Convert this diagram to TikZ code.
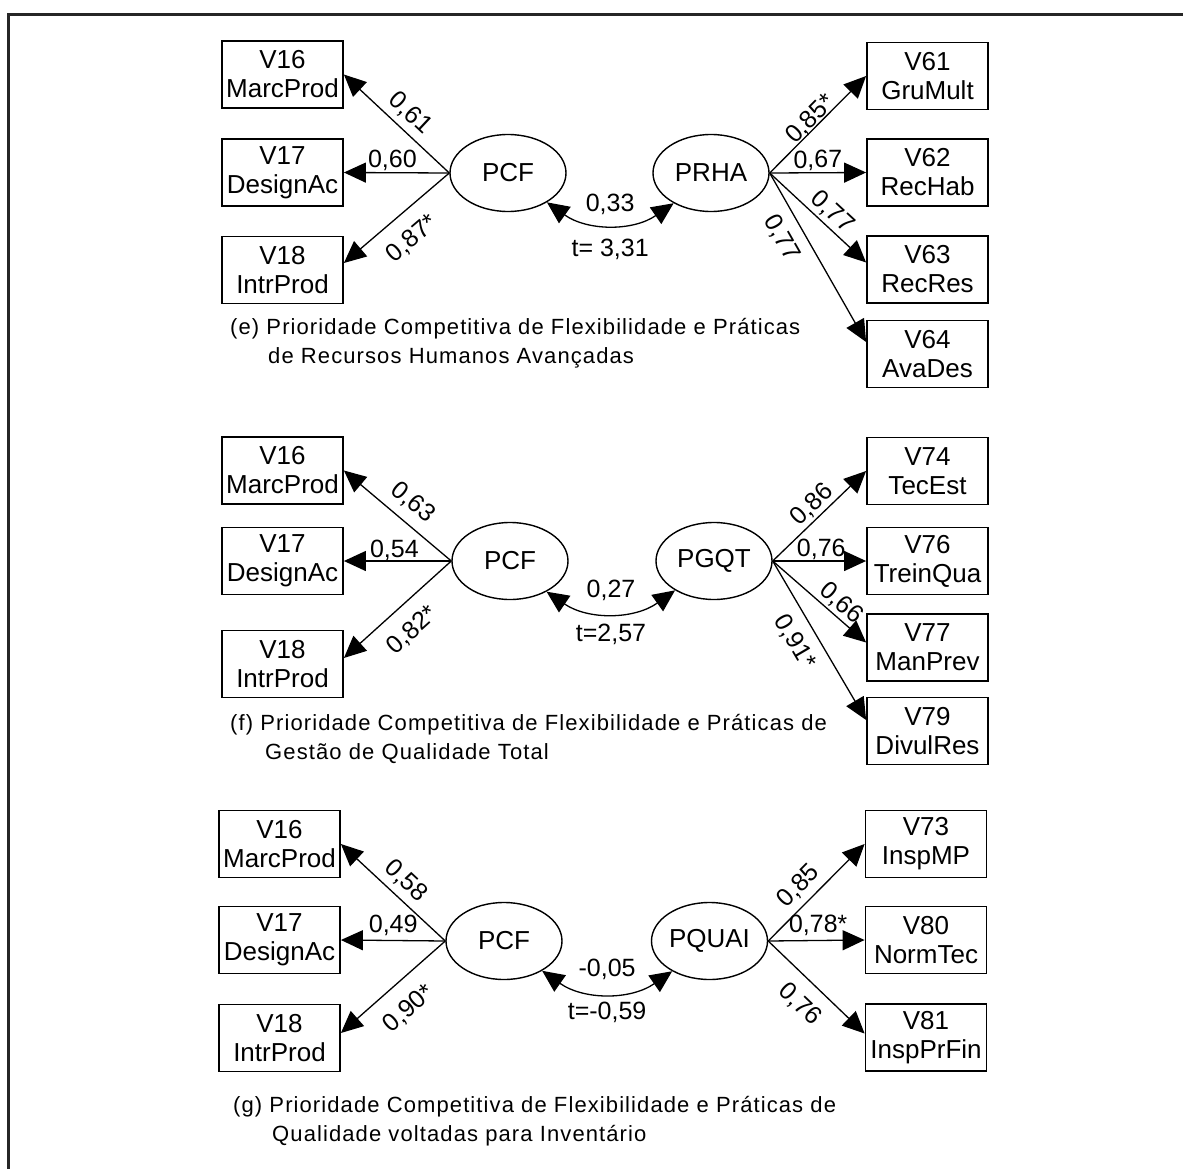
\documentclass[tikz,border=0pt]{standalone}
\usepackage{fontspec}
\setmainfont{Liberation Sans}
\newfontfamily\capfont[LetterSpace=5]{Liberation Sans}
\usetikzlibrary{arrows.meta,shapes.geometric,calc}
\newcommand\nodefs{\fontsize{26}{29}\selectfont}
\newcommand\lblfs{\fontsize{25}{28}\selectfont}
\newcommand\capfs{\capfont\fontsize{22}{29}\selectfont}

\tikzset{
  obs/.style={draw=black, line width=1.8pt, minimum width=121pt, minimum height=67pt,
              inner sep=0pt, align=center, font=\nodefs},
  lat/.style={draw=black, ellipse, line width=1.4pt, minimum width=116pt, minimum height=77pt,
              inner sep=0pt, font=\nodefs},
  head/.style={Triangle[length=22pt,width=20pt]},
  load/.style={-{Triangle[length=22pt,width=20pt]}, line width=1.3pt},
  corr/.style={{Triangle[length=22pt,width=20pt]}-{Triangle[length=22pt,width=20pt]}, line width=1.3pt},
  val/.style={font=\lblfs, inner sep=1pt},
  coef/.style={val, sloped},
  caption/.style={font=\capfs, anchor=base west, inner sep=0pt, align=left},
}

\begin{document}
\begin{tikzpicture}[x=1pt,y=1pt]
\useasboundingbox (0,0) rectangle (1183,-1169);

% outer frame
\draw[line width=2.4pt, black!85] (8.5,-1175) -- (8.5,-14.5) -- (1190,-14.5);

% ---------------- (e) PCF -- PRHA ----------------
\node[obs] (e16) at (282.5,-74.5) {V16\\MarcProd};
\node[obs] (e17) at (282.5,-172.5) {V17\\DesignAc};
\node[obs] (e18) at (282.5,-270) {V18\\IntrProd};
\node[lat] (epcf) at (508,-173) {PCF};
\node[lat] (eprha) at (711,-173) {PRHA};
\node[obs] (e61) at (927.5,-76) {V61\\GruMult};
\node[obs] (e62) at (927.5,-172.5) {V62\\RecHab};
\node[obs] (e63) at (927.5,-269.5) {V63\\RecRes};
\node[obs] (e64) at (927.5,-354) {V64\\AvaDes};

\draw[load] (epcf.west) -- node[coef,pos=.48,above=5pt]{0,61} (e16.east);
\draw[load] (epcf.west) -- node[coef,pos=.54,above=0pt]{0,60} (e17.east);
\draw[load] (epcf.west) -- node[coef,pos=.51,below=14pt]{0,87*} ([yshift=7pt]e18.east);
\draw[load] (eprha.east) -- node[coef,pos=.49,above=-3pt]{0,85*} (e61.west);
\draw[load] (eprha.east) -- node[coef,pos=.5,above=0pt]{0,67} (e62.west);
\draw[load] (eprha.east) -- node[coef,pos=.55,above=2pt]{0,77} ([yshift=7pt]e63.west);
\draw[load] (eprha.east) -- node[coef,pos=.32,below=10pt]{0,77} ([yshift=12pt]e64.west);
\draw[corr] (epcf.-37) to[bend right=35]
  node[val,midway,above=8pt]{0,33} node[val,midway,below=13pt]{t= 3,31} (eprha.-141);

% caption: the node's base is the baseline of its second line
\node[caption] (ecap) at (230,-363.5)
  {(e) Prioridade Competitiva de Flexibilidade e Práticas\\\hspace*{38pt}de Recursos Humanos Avançadas};

% ---------------- (f) PCF -- PGQT ----------------
\node[obs] (f16) at (282.5,-470.5) {V16\\MarcProd};
\node[obs] (f17) at (282.5,-561) {V17\\DesignAc};
\node[obs] (f18) at (282.5,-664) {V18\\IntrProd};
\node[lat] (fpcf) at (510,-561) {PCF};
\node[lat] (fpgqt) at (714,-561) {PGQT};
\node[obs] (f74) at (927.5,-471) {V74\\TecEst};
\node[obs] (f76) at (927.5,-561) {V76\\TreinQua};
\node[obs] (f77) at (927.5,-647.5) {V77\\ManPrev};
\node[obs] (f79) at (927.5,-731) {V79\\DivulRes};

\draw[load] (fpcf.west) -- node[coef,pos=.48,above=8pt]{0,63} (f16.east);
\draw[load] (fpcf.west) -- node[coef,pos=.53,above=-1pt]{0,54} (f17.east);
\draw[load] (fpcf.west) -- node[coef,pos=.52,below=13.5pt]{0,82*} ([yshift=6pt]f18.east);
\draw[load] (fpgqt.east) -- node[coef,pos=.52,above=1pt]{0,86} (f74.west);
\draw[load] (fpgqt.east) -- node[coef,pos=.52,above=0pt]{0,76} (f76.west);
\draw[load] (fpgqt.east) -- node[coef,pos=.64,above=1pt]{0,66} ([yshift=5pt]f77.west);
\draw[load] (fpgqt.east) -- node[coef,pos=.44,below=10.5pt]{0,91*} ([yshift=11pt]f79.west);
\draw[corr] (fpcf.-40) to[bend right=35]
  node[val,midway,above=10pt]{0,27} node[val,midway,below=10pt]{t=2,57} (fpgqt.-143);

\node[caption] (fcap) at (230,-759.5)
  {(f) Prioridade Competitiva de Flexibilidade e Práticas de\\\hspace*{35pt}Gestão de Qualidade Total};

% ---------------- (g) PCF -- PQUAI ----------------
\node[obs] (g16) at (279.5,-844) {V16\\MarcProd};
\node[obs] (g17) at (279.5,-940) {V17\\DesignAc};
\node[obs] (g18) at (279.5,-1038) {V18\\IntrProd};
\node[lat] (gpcf) at (504,-941) {PCF};
\node[lat] (gpquai) at (709.5,-941) {PQUAI};
\node[obs] (g73) at (926,-844) {V73\\InspMP};
\node[obs] (g80) at (926,-940) {V80\\NormTec};
\node[obs] (g81) at (926,-1037.5) {V81\\InspPrFin};

\draw[load] (gpcf.west) -- node[coef,pos=.49,above=5pt]{0,58} (g16.east);
\draw[load] (gpcf.west) -- node[coef,pos=.50,above=3pt]{0,49} (g17.east);
\draw[load] (gpcf.west) -- node[coef,pos=.52,below=15pt]{0,90*} ([yshift=5pt]g18.east);
\draw[load] (gpquai.east) -- node[coef,pos=.44,above=5pt]{0,85} (g73.west);
\draw[load] (gpquai.east) -- node[coef,pos=.52,above=3pt]{0,78*} (g80.west);
\draw[load] (gpquai.east) -- node[coef,pos=.50,below=12pt]{0,76} ([yshift=4pt]g81.west);
\draw[corr] (gpcf.-38) to[bend right=35]
  node[val,midway,above=12pt]{-0,05} node[val,midway,below=7pt]{t=-0,59} (gpquai.-141);

\node[caption] (gcap) at (233,-1141.5)
  {(g) Prioridade Competitiva de Flexibilidade e Práticas de\\\hspace*{39pt}Qualidade voltadas para Inventário};

\end{tikzpicture}
\end{document}
